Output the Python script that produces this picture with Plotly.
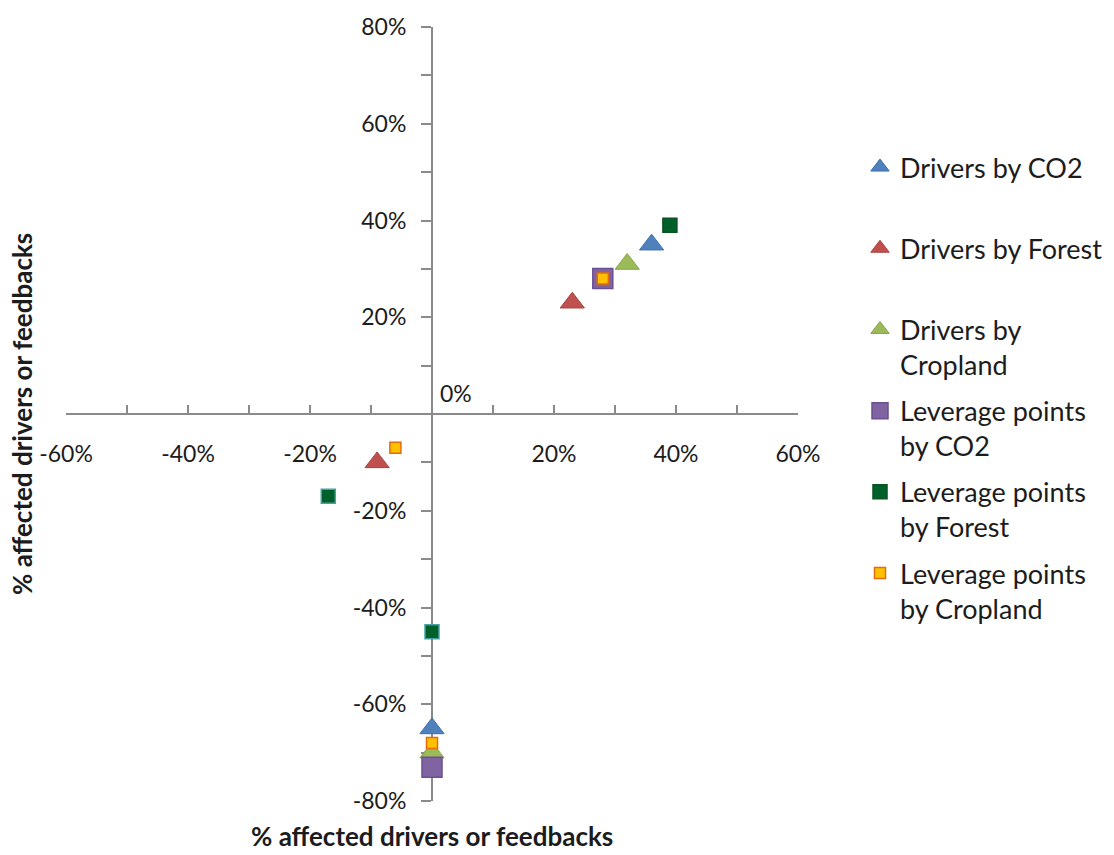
import plotly.graph_objects as go

# Share of affected drivers / feedbacks (in %), per scenario series
series_names = [
    "Drivers by CO2",
    "Drivers by Forest",
    "Drivers by<br>Cropland",
    "Leverage points<br>by CO2",
    "Leverage points<br>by Forest",
    "Leverage points<br>by Cropland",
]
drivers_co2_x = [36, 0]
drivers_co2_y = [35, -65]
drivers_forest_x = [23, -9]
drivers_forest_y = [23, -10]
drivers_cropland_x = [32, 0]
drivers_cropland_y = [31, -70]
leverage_co2_x = [28, 0]
leverage_co2_y = [28, -73]
leverage_forest_x = [39, -17, 0]
leverage_forest_y = [39, -17, -45]
leverage_cropland_x = [28, -6, 0]
leverage_cropland_y = [28, -7, -68]

x_ticks = [-60, -50, -40, -30, -20, -10, 0, 10, 20, 30, 40, 50, 60]
x_tick_labels = ["-60%", "", "-40%", "", "-20%", "", "", "", "20%", "", "40%", "", "60%"]
y_ticks = [-80, -70, -60, -50, -40, -30, -20, -10, 0, 10, 20, 30, 40, 50, 60, 70, 80]
y_tick_labels = ["-80%", "", "-60%", "", "-40%", "", "-20%", "", "", "", "20%", "", "40%", "", "60%", "", "80%"]

axis_title = "% affected drivers or feedbacks"

FONT = "Lato"
AXIS_GREY = "#8a8a8a"
TEXT = "#1c1c1c"

W, H = 1114, 855
ML, MR, MT, MB = 66, 316, 23, 54
PW, PH = W - ML - MR, H - MT - MB

fig = go.Figure()

styles = [
    (drivers_co2_x, drivers_co2_y, "triangle-up", 21, "#4F81BD", "#3f6fa8", 1),
    (drivers_forest_x, drivers_forest_y, "triangle-up", 21, "#C0504D", "#a8423f", 1),
    (drivers_cropland_x, drivers_cropland_y, "triangle-up", 21, "#9BBB59", "#86a64a", 1),
    (leverage_co2_x, leverage_co2_y, "square", 20, "#8064A2", "#6b5090", 1.5),
    (leverage_forest_x, leverage_forest_y, "square", 14, "#00602A",
     ["#0a5220", "#4aa0a0", "#4aa0a0"], 1.5),
    (leverage_cropland_x, leverage_cropland_y, "square", 11, "#FFC000", "#E46C0A", 1.5),
]

for i, (name, (xs, ys, sym, size, fill, edge, lw)) in enumerate(zip(series_names, styles)):
    label = name if "<br>" in name else name + "<br>\u00a0"
    fig.add_trace(go.Scatter(
        x=xs, y=ys, mode="markers", name=label,
        legendgroup=f"g{i}",
        marker=dict(symbol=sym, size=size, color=fill,
                    line=dict(color=edge, width=lw)),
        cliponaxis=False,
    ))

fig.update_layout(
    width=W, height=H,
    margin=dict(l=ML, r=MR, t=MT, b=MB),
    paper_bgcolor="white", plot_bgcolor="white",
    font=dict(family=FONT, color=TEXT),
    showlegend=True,
    legend=dict(
        xref="container", yref="container",
        x=860 / W, y=1 - 143 / H,
        xanchor="left", yanchor="top",
        font=dict(family=FONT, size=27, color=TEXT),
        valign="top",
        tracegroupgap=8,
        itemwidth=30,
        maxheight=700,
        bgcolor="rgba(0,0,0,0)",
    ),
    xaxis=dict(
        range=[-60, 60], anchor="free", position=0.5,
        showgrid=False, zeroline=False, layer="below traces",
        showline=True, linecolor=AXIS_GREY, linewidth=2,
        tickmode="array", tickvals=x_ticks, ticktext=x_tick_labels,
        ticks="inside", ticklen=8, tickwidth=2, tickcolor=AXIS_GREY,
        ticklabelstandoff=19,
        tickfont=dict(family=FONT, size=23, color=TEXT),
    ),
    yaxis=dict(
        range=[-80, 80], anchor="free", position=0.5,
        showgrid=False, zeroline=False, layer="below traces",
        showline=True, linecolor=AXIS_GREY, linewidth=2,
        tickmode="array", tickvals=y_ticks, ticktext=y_tick_labels,
        ticks="outside", ticklen=10, tickwidth=2, tickcolor=AXIS_GREY,
        ticklabelstandoff=10,
        tickfont=dict(family=FONT, size=23, color=TEXT),
    ),
    annotations=[
        dict(text="0%", x=0, y=0, xref="x", yref="y",
             xanchor="left", yanchor="bottom", xshift=6, yshift=5,
             showarrow=False, font=dict(family=FONT, size=23, color=TEXT)),
        dict(text=f"<b>{axis_title}</b>", x=0.5, y=(MT + PH - 836) / PH,
             xref="paper", yref="paper", xanchor="center", yanchor="middle",
             showarrow=False, font=dict(family=FONT, size=26, color=TEXT)),
        dict(text=f"<b>{axis_title}</b>", x=(22 - ML) / PW, y=0.5,
             xref="paper", yref="paper", xanchor="center", yanchor="middle",
             textangle=-90, showarrow=False,
             font=dict(family=FONT, size=26, color=TEXT)),
    ],
)

fig.write_html("out.html")
